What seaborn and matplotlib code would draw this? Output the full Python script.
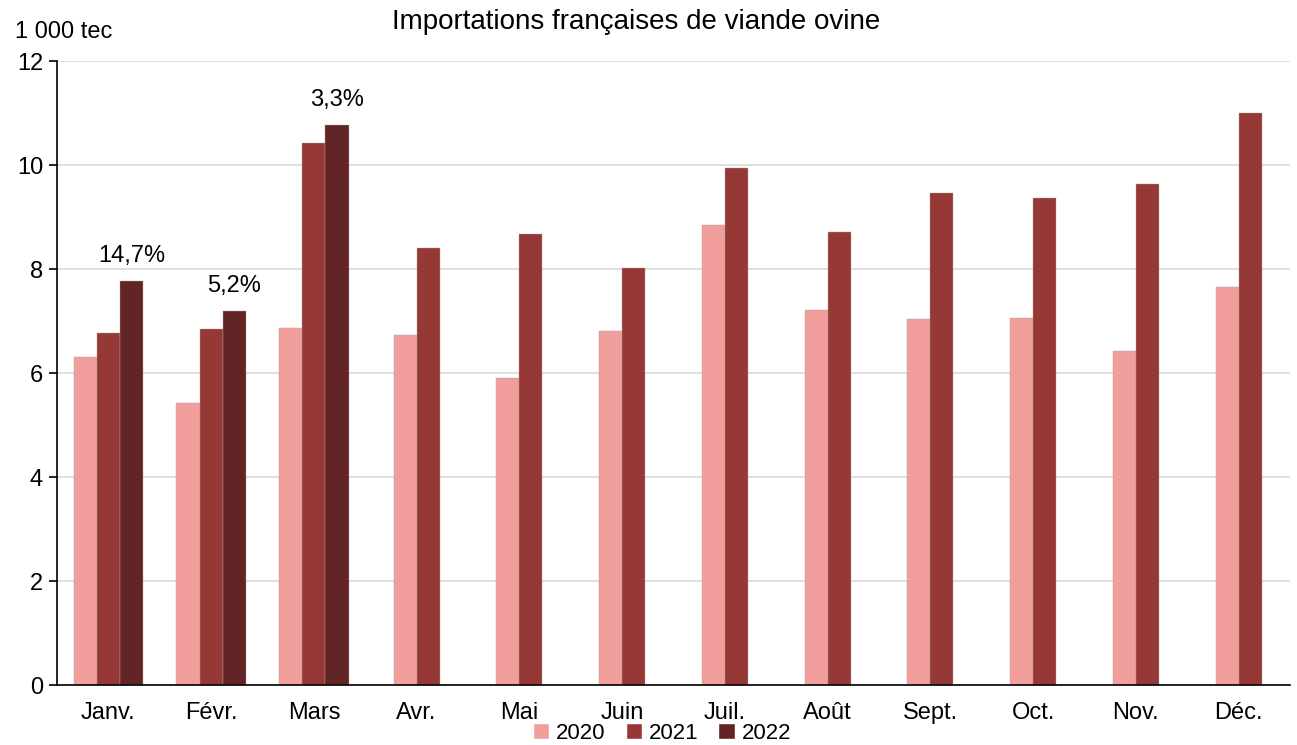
import pandas as pd
import matplotlib.pyplot as plt
import seaborn as sns
from matplotlib.patches import Patch

months = ["Janv.", "Févr.", "Mars", "Avr.", "Mai", "Juin", "Juil.", "Août",
          "Sept.", "Oct.", "Nov.", "Déc."]
v2020 = [6.31, 5.42, 6.87, 6.73, 5.90, 6.81, 8.85, 7.21, 7.04, 7.06, 6.42, 7.65]
v2021 = [6.77, 6.85, 10.42, 8.40, 8.67, 8.02, 9.94, 8.71, 9.46, 9.37, 9.63, 11.00]
v2022 = [7.77, 7.19, 10.77]
labels2022 = ["14,7%", "5,2%", "3,3%"]
years = ["2020", "2021", "2022"]
colors = {"2020": "#F29E9C", "2021": "#963836", "2022": "#632426"}

rows = []
for i, m in enumerate(months):
    rows.append((m, "2020", v2020[i]))
    rows.append((m, "2021", v2021[i]))
    if i < len(v2022):
        rows.append((m, "2022", v2022[i]))
df = pd.DataFrame(rows, columns=["mois", "annee", "valeur"])
have22 = df[df.mois.isin(months[:len(v2022)])]
no22 = df[~df.mois.isin(months[:len(v2022)])]

sns.set_style("white")
plt.rcParams["font.family"] = ["Liberation Sans", "DejaVu Sans"]
plt.rcParams["text.color"] = "black"
plt.rcParams["xtick.color"] = "black"
plt.rcParams["ytick.color"] = "black"

fig, ax = plt.subplots(figsize=(12.97, 7.45), dpi=100)
fig.subplots_adjust(left=57/1297, right=1290/1297, top=1-61/745, bottom=1-685/745)

barw = 0.225
sns.barplot(data=have22, x="mois", y="valeur", hue="annee", order=months,
            hue_order=years, palette=colors, width=barw*3, ax=ax, saturation=1,
            edgecolor="#b0a0a0", linewidth=0.3, legend=False)
sns.barplot(data=no22, x="mois", y="valeur", hue="annee", order=months,
            hue_order=years[:2], palette=colors, width=barw*2, ax=ax, saturation=1,
            edgecolor="#b0a0a0", linewidth=0.3, legend=False)

# labels above the 2022 bars
for i, (v, t) in enumerate(zip(v2022, labels2022)):
    ax.annotate(t, (i + barw, v), xytext=(0, 10), textcoords="offset points",
                ha="center", va="bottom", fontsize=17)

ax.set_xlim(-0.5, len(months) - 0.5)
ax.set_ylim(0, 12)
ax.set_yticks(range(0, 13, 2))
ax.grid(axis="y", color="#d9d9d9", linewidth=1.2)
ax.set_axisbelow(True)
ax.set_xlabel("")
ax.set_ylabel("")
for s in ["top", "right"]:
    ax.spines[s].set_visible(False)
for s in ["left", "bottom"]:
    ax.spines[s].set_color("black")
    ax.spines[s].set_linewidth(1.2)

ax.set_xticks([i - 0.5 for i in range(len(months) + 1)], minor=True)
ax.tick_params(axis="x", which="major", length=0, labelsize=17, pad=12)
ax.tick_params(axis="x", which="minor", length=6, width=1.2, color="black",
               direction="out")
ax.tick_params(axis="y", length=6, width=1.2, color="black", direction="out",
               labelsize=17, left=True, pad=4)

fig.text(636/1297, 1 - 22/745, "Importations françaises de viande ovine",
         ha="center", va="center", fontsize=20)
fig.text(15/1297, 1 - 32/745, "1 000 tec", ha="left", va="center", fontsize=17)

handles = [Patch(facecolor=colors[y], label=y) for y in years]
fig.legend(handles=handles, loc="lower center", bbox_to_anchor=(662/1297, 1/745),
           ncol=3, frameon=False, fontsize=16, handlelength=0.75,
           handleheight=0.75, handletextpad=0.3, columnspacing=0.9,
           borderpad=0, borderaxespad=0)

fig.savefig("out.png", dpi=100)
